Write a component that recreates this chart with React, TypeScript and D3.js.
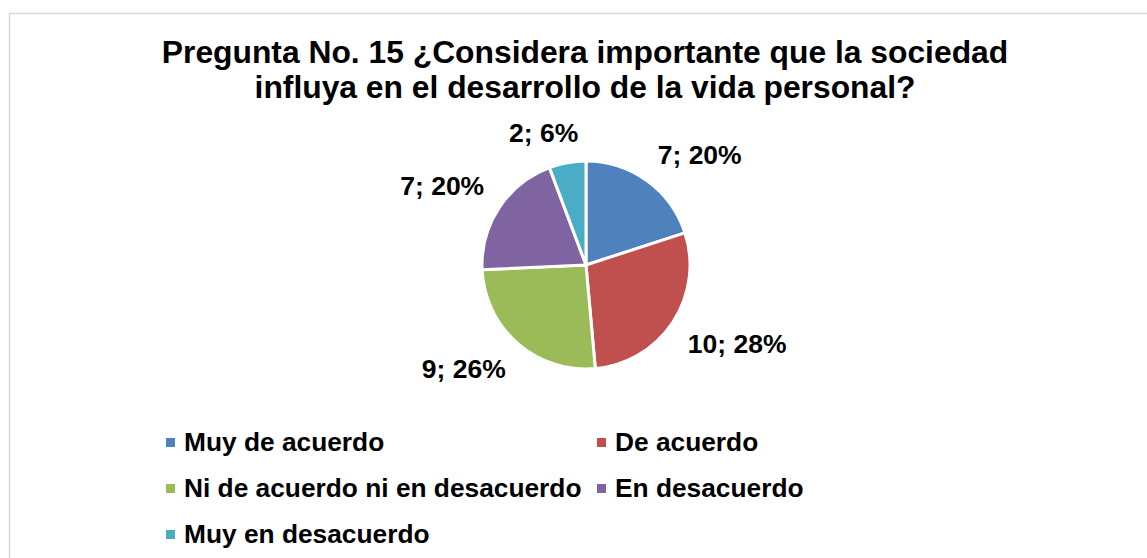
import React from "react";
import * as d3 from "d3";

const categories = [
  "Muy de acuerdo",
  "De acuerdo",
  "Ni de acuerdo ni en desacuerdo",
  "En desacuerdo",
  "Muy en desacuerdo",
];
const values = [7, 10, 9, 7, 2];
const percentLabels = ["20%", "28%", "26%", "20%", "6%"];
const colors = ["#4F81BD", "#C0504D", "#9BBB59", "#8064A2", "#4BACC6"];
const titleLines = [
  "Pregunta No. 15 ¿Considera importante que la sociedad",
  "influya en el desarrollo de la vida personal?",
];

const W = 1147;
const H = 558;
const FONT = "'Liberation Sans', Arial, sans-serif";

let ctx: CanvasRenderingContext2D | null = null;
function textWidth(t: string, size: number) {
  if (!ctx) ctx = document.createElement("canvas").getContext("2d");
  if (!ctx) return t.length * size * 0.55;
  ctx.font = `bold ${size}px ${FONT}`;
  return ctx.measureText(t).width;
}

export default function App() {
  const cx = 586;
  const cy = 265;
  const r = 104;
  const labelSize = 26.5;
  const pie = d3.pie<number>().sort(null).value((d) => d);
  const arcs = pie(values);
  const arc = d3.arc<d3.PieArcDatum<number>>().innerRadius(0).outerRadius(r);

  const legendCols = [166, 597];
  const legendRows = [451, 497, 543];

  return (
    <svg
      width={W}
      height={H}
      style={{ position: "fixed", left: 0, top: 0, background: "#fff" }}
    >
      <rect x={0} y={0} width={W} height={H} fill="#fff" />
      <rect
        x={9.5}
        y={13.5}
        width={W + 20}
        height={H + 20}
        fill="none"
        stroke="#d9d9d9"
        strokeWidth={1.5}
      />
      {titleLines.map((t, i) => (
        <text
          key={i}
          x={585}
          y={63 + i * 35}
          textAnchor="middle"
          fontFamily={FONT}
          fontWeight="bold"
          fontSize={31.8}
          fill="#000"
        >
          {t}
        </text>
      ))}
      <g transform={`translate(${cx},${cy})`}>
        {arcs.map((a, i) => (
          <path key={i} d={arc(a) || ""} fill={colors[i]} stroke="#fff" strokeWidth={3} strokeLinejoin="round" />
        ))}
        {arcs.map((a, i) => {
          const mid = (a.startAngle + a.endAngle) / 2;
          const dx = Math.sin(mid);
          const dy = -Math.cos(mid);
          const R = r + 18;
          const label = `${values[i]}; ${percentLabels[i]}`;
          const w = textWidth(label, labelSize);
          const h = 24;
          const sx = Math.max(-1, Math.min(1, dx / 0.3));
          const sy = Math.max(-1, Math.min(1, dy / 0.3));
          const x = dx * R + (sx * w) / 2;
          const y = dy * R + (sy * h) / 2;
          return (
            <text
              key={"l" + i}
              x={x}
              y={y}
              dy="0.35em"
              textAnchor="middle"
              fontFamily={FONT}
              fontWeight="bold"
              fontSize={labelSize}
              fill="#000"
            >
              {label}
            </text>
          );
        })}
      </g>
      {categories.map((c, i) => {
        const col = i % 2;
        const row = Math.floor(i / 2);
        const x = legendCols[col];
        const y = legendRows[row];
        return (
          <g key={"lg" + i}>
            <rect x={x} y={y - 13} width={9} height={9} fill={colors[i]} />
            <text
              x={x + 18}
              y={y}
              fontFamily={FONT}
              fontWeight="bold"
              fontSize={26.3}
              fill="#000"
            >
              {c}
            </text>
          </g>
        );
      })}
    </svg>
  );
}
